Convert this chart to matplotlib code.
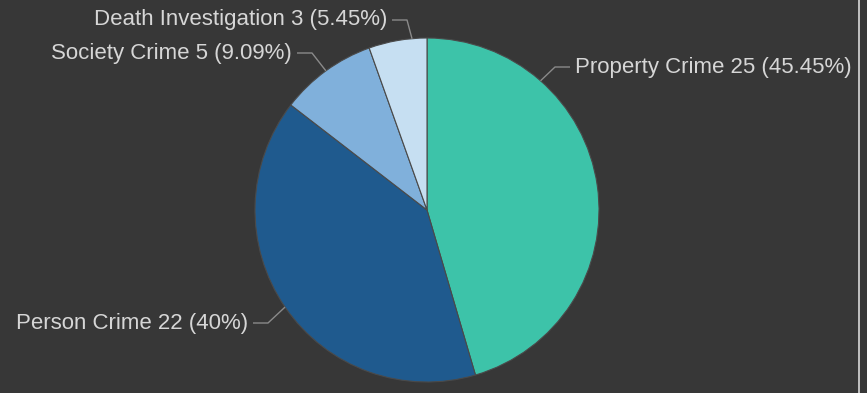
import numpy as np
import matplotlib
matplotlib.use("Agg")
import matplotlib.pyplot as plt

plt.rcParams["font.family"] = ["Liberation Sans", "DejaVu Sans"]

categories = ["Property Crime", "Person Crime", "Society Crime", "Death Investigation"]
counts = [25, 22, 5, 3]
colors = ["#3dc3a9", "#1f5a8e", "#80b0db", "#c6dff2"]

# label placement (pixels from top-left) and where the connector meets the rim
label_pos = [(575, 67), (248, 323), (292, 53), (387, 20)]
label_side = ["left", "right", "right", "right"]
connector_angle = [48.7, None, None, 95.0]

W, H = 867, 393
BG = "#373737"
cx, cy, r = 427, 210, 172

fig = plt.figure(figsize=(W / 100, H / 100), dpi=100, facecolor=BG)
ax = fig.add_axes([0, 0, 1, 1])
ax.set_facecolor(BG)


def flip(y):
    return H - y


wedges, _ = ax.pie(
    counts,
    colors=colors,
    startangle=90,
    counterclock=False,
    center=(cx, flip(cy)),
    radius=r,
    wedgeprops=dict(edgecolor="#4a4a4a", linewidth=0.8),
    frame=True,
)
ax.set_xlim(0, W)
ax.set_ylim(0, H)
ax.set_aspect("equal")
ax.axis("off")

total = sum(counts)
for w, name, n, pos, side, ang in zip(
    wedges, categories, counts, label_pos, label_side, connector_angle
):
    pct = round(100 * n / total, 2)
    pct_txt = f"{pct:g}%"
    if ang is None:
        ang = (w.theta1 + w.theta2) / 2
    a = np.radians(ang)
    px, py = cx + r * np.cos(a), flip(cy) + r * np.sin(a)
    tx, ty = pos
    sgn = 1 if side == "left" else -1
    kx = tx - sgn * 20
    ex = tx - sgn * 5
    ax.plot([px, kx, ex], [py, flip(ty), flip(ty)], color="#8a8a8a", lw=1,
            solid_capstyle="butt")
    ax.text(tx, flip(ty), f"{name} {n} ({pct_txt})", ha=side, va="center",
            color="#d6d6d6", fontsize=16)

# panel border on the right
ax.plot([859, 859], [0, H], color="#d8d8d8", lw=1.2)

fig.savefig("out.png", dpi=100, facecolor=BG)
